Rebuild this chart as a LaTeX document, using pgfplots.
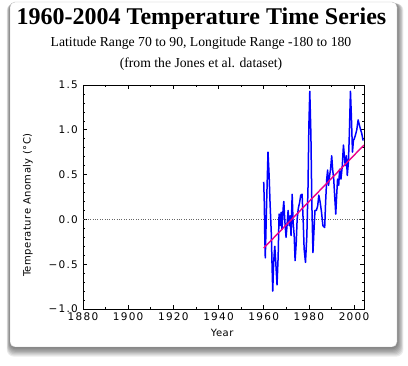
\documentclass[border=0pt]{standalone}
\usepackage{fontspec}
\setmainfont{Liberation Serif}
\newfontfamily\idl[LetterSpace=12]{DejaVu Sans}
\newfontfamily\idllab[LetterSpace=5]{DejaVu Sans}
\usepackage{pgfplots}
\pgfplotsset{compat=1.18}
\pgfplotstableread{
yr v
1960.0 0.42
1960.3 0.15
1960.45 -0.15
1960.7 -0.43
1961.3 0.19
1961.9 0.75
1962.4 0.49
1962.8 0.19
1963.4 -0.18
1963.7 -0.52
1964.0 -0.80
1964.4 -0.48
1964.9 -0.30
1965.3 -0.46
1965.9 -0.73
1966.4 -0.41
1966.8 0.06
1967.3 -0.07
1967.7 0.08
1968.1 -0.11
1968.6 0.12
1968.9 0.20
1969.3 0.00
1969.9 -0.20
1970.2 -0.11
1970.8 0.10
1971.3 -0.07
1971.7 0.04
1972.1 -0.18
1972.6 0.28
1973.0 -0.03
1973.5 -0.18
1973.9 -0.46
1974.4 -0.26
1974.8 0.00
1975.3 0.12
1975.9 0.19
1976.4 0.27
1977.0 0.28
1977.5 -0.03
1977.9 -0.33
1978.5 -0.48
1979.1 -0.18
1979.6 0.34
1980.0 1.05
1980.4 1.43
1980.9 0.94
1981.3 0.19
1981.8 -0.37
1982.2 -0.15
1982.7 0.10
1983.3 0.10
1983.9 0.15
1984.4 0.27
1985.0 0.19
1985.6 0.08
1986.2 -0.07
1987.0 -0.09
1987.4 0.19
1987.9 0.45
1988.3 0.55
1988.7 0.38
1989.2 0.49
1989.6 0.56
1990.1 0.71
1990.5 0.56
1991.0 0.45
1991.4 0.27
1991.9 0.06
1992.3 0.27
1992.7 0.45
1993.2 0.38
1993.6 0.56
1994.2 0.45
1994.8 0.60
1995.3 0.83
1995.7 0.71
1996.1 0.60
1996.6 0.71
1997.0 0.49
1997.5 0.64
1997.9 0.94
1998.4 1.43
1998.8 1.16
1999.3 0.75
1999.7 0.88
2000.1 0.90
2000.6 0.94
2001.2 1.00
2001.8 1.11
2002.2 1.07
2002.8 1.01
2003.4 0.96
2004.0 0.88
}\series
\begin{document}
\begin{tikzpicture}[x=1pt,y=1pt]
\useasboundingbox (0,0) rectangle (408,366);
\fill[white] (0,0) rectangle (408,366);
% shadow
\foreach \i in {1,...,8} {
  \fill[black, opacity=0.08, rounded corners=7pt]
    (10-0.4*\i, 19-1.2*\i) rectangle (397+0.8*\i, 364-0.2*\i);
}
\fill[white, rounded corners=5pt] (10,19) rectangle (397,364);
\draw[black!25, rounded corners=5pt] (10,19) rectangle (397,364);
% titles
\node[anchor=base, inner sep=0pt, font=\fontsize{24}{28}\selectfont\bfseries] at (201.5,341) {1960-2004 Temperature Time Series};
\node[anchor=base, inner sep=0pt, font=\fontsize{13.7}{16}\selectfont] at (201,319.3) {Latitude Range 70 to 90, Longitude Range -180 to 180};
\node[anchor=base, inner sep=0pt, font=\fontsize{13.7}{16}\selectfont] at (201,298.3) {(from the Jones et al. dataset)};
\begin{axis}[
  at={(83pt,57pt)}, anchor=south west,
  scale only axis, width=281pt, height=224pt,
  xmin=1880, xmax=2004.4, ymin=-1, ymax=1.5,
  xtick={1880,1900,...,2000},
  xticklabels={1880,1900,1920,1940,1960,1980,2000},
  ytick={-1,-0.5,0,0.5,1,1.5},
  yticklabels={−1.0,−0.5,0.0,0.5,1.0,1.5},
  minor x tick num=1, minor y tick num=4,
  tick align=inside,
  major tick length=4pt, minor tick length=2pt,
  axis line style={black, line width=0.6pt},
  every tick/.style={black, line width=0.6pt},
  tick label style={font=\fontsize{10.5}{12}\selectfont\idl, inner sep=0pt},
  xticklabel style={anchor=north, yshift=-4pt},
  yticklabel style={anchor=east, xshift=-5pt},
  xlabel={Year},
  ylabel={Temperature Anomaly (°C)},
  label style={font=\fontsize{10}{12}\selectfont\idllab, inner sep=0pt},
  xlabel style={at={(axis description cs:0.495,-0.107)}, anchor=center},
  ylabel style={at={(axis description cs:-0.196,0.464)}, anchor=center},
  clip=true,
]
\addplot[black!60, line width=0.6pt, dash pattern=on 0.8pt off 1.6pt] coordinates {(1880,0) (2004.4,0)};
\addplot[blue, line width=1.5pt, line join=round] table[x=yr, y=v] {\series};
\addplot[magenta, line width=1.4pt] coordinates {(1960,-0.32) (2004.4,0.83)};
\end{axis}
\end{tikzpicture}
\end{document}
